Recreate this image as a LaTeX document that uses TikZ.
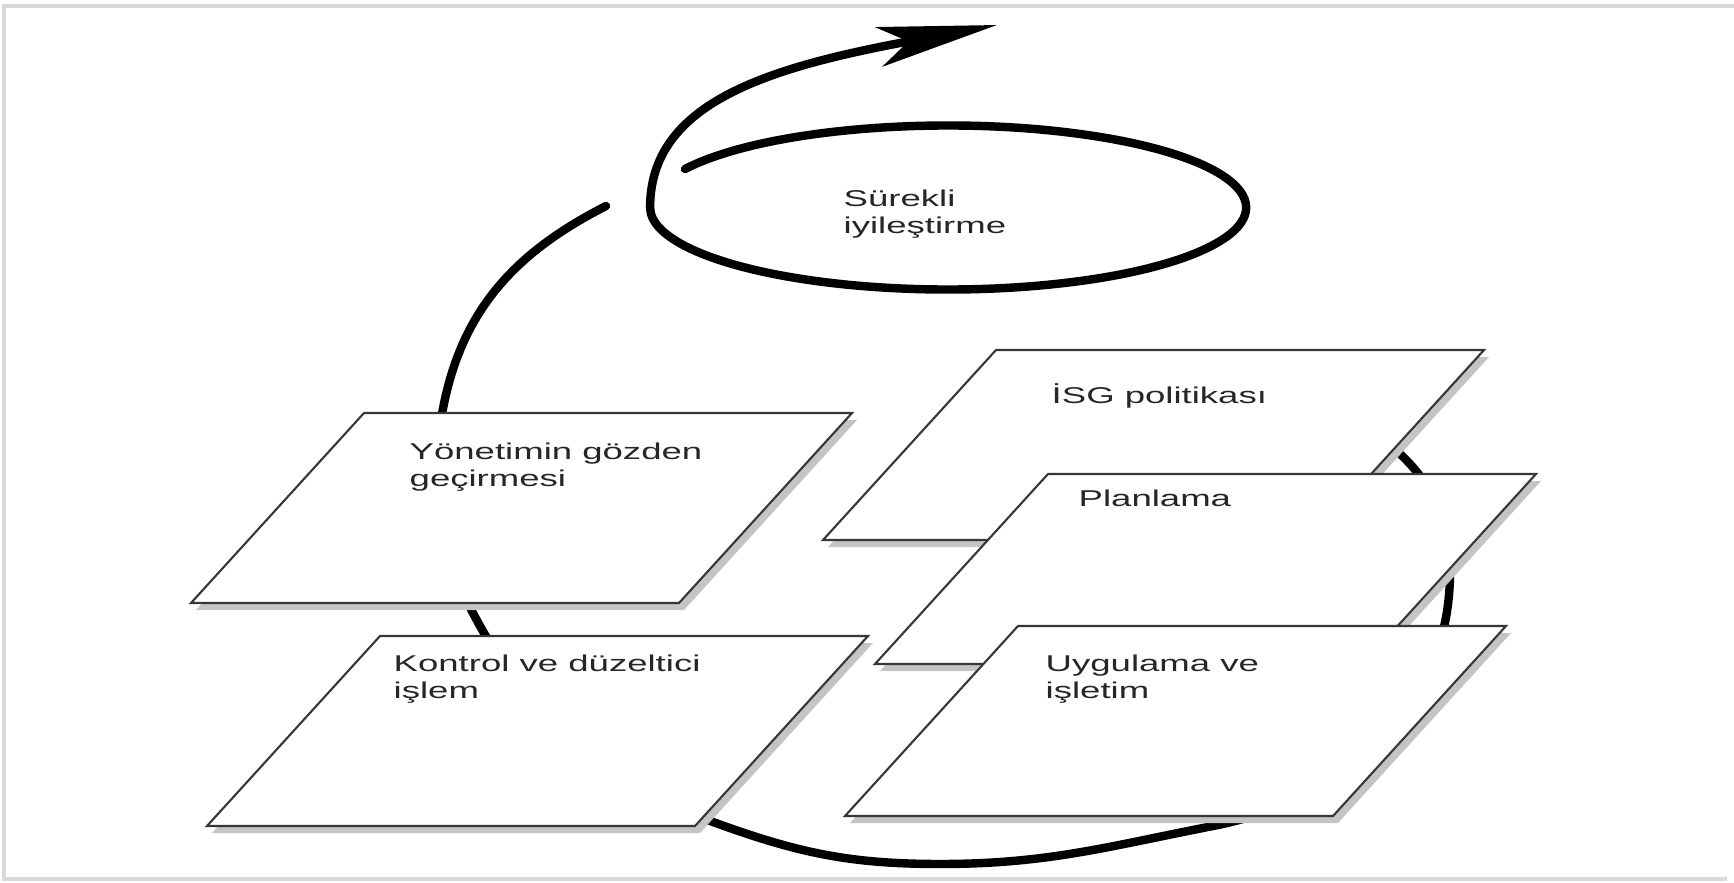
\documentclass[tikz,border=0pt]{standalone}
\usepackage{fontspec}
\setmainfont{Liberation Sans}[FakeStretch=1.6]
\usepackage{tikz}
\usetikzlibrary{calc,arrows.meta}
\definecolor{PlateShade}{RGB}{196,196,196}
\definecolor{PlateEdge}{RGB}{55,55,55}

\begin{document}
\begin{tikzpicture}[
		plate/.style={draw=PlateEdge, fill=white, line width=0.6pt},
		plateshade/.style={fill=PlateShade},
		plabel/.style={anchor=base west, align=left, inner sep=0pt, font=\fontsize{6.5}{7.6}\selectfont, text=black!85},
		cyc/.style={line width=2.4pt, line cap=round},
		]
		
		\useasboundingbox (0,0) rectangle (17.34,8.82);
		\draw[black!15, line width=1.2pt] (17.34,8.76) -- (0.04,8.76) -- (0.04,0.03) -- (17.27,0.03);
		
		% ===== ana döngü (kutuların arkasında kalır) =====
		\draw[cyc] (13.60,4.57) to[out=-30,in=90] (14.50,3.10)
			to[out=-90,in=11] (12.13,0.56)
			to[out=191,in=0] (9.40,0.18)
			to[out=180,in=-20] (7.13,0.60)
			to[out=160,in=-60] (4.84,2.49)
			to[out=120,in=-100] (4.42,4.68)
			to[out=80,in=207] (6.06,6.76);
		
		% ===== sarmal + ok =====
		\draw[cyc, -{Stealth[length=12mm,width=4mm,inset=3mm]}] (6.85,7.13)
			arc[start angle=152, end angle=-180, x radius=2.98, y radius=0.82]
			.. controls (6.50,7.80) and (7.70,8.15) .. (9.97,8.57);
		
		% ===== 5 kutu =====
		\foreach \nm/\bx/\by in {yon/1.91/2.79, kon/2.07/0.56, isg/8.23/3.42, pla/8.75/2.18, uyg/8.45/0.66}{
			\fill[plateshade] ($(\bx,\by)+(0.05,-0.07)$) -- ++(4.88,0) -- ++(1.73,1.90) -- ++(-4.88,0) -- cycle;
			\draw[plate] (\bx,\by) coordinate (\nm) -- ++(4.88,0) -- ++(1.73,1.90) -- ++(-4.88,0) -- cycle;
		}
		
		% ===== yazılar (iki satırlıda taban = son satır) =====
		\node[plabel] (sur) at (8.43,6.49) {Sürekli\\iyileştirme};
		\node[plabel] (yon-t) at (4.09,3.96) {Yönetimin gözden\\geçirmesi};
		\node[plabel] (kon-t) at (3.93,1.84) {Kontrol ve düzeltici\\işlem};
		\node[plabel] (isg-t) at (10.51,4.79) {İSG politikası};
		\node[plabel] (pla-t) at (10.78,3.76) {Planlama};
		\node[plabel] (uyg-t) at (10.45,1.84) {Uygulama ve\\işletim};
		
	\end{tikzpicture}
\end{document}
